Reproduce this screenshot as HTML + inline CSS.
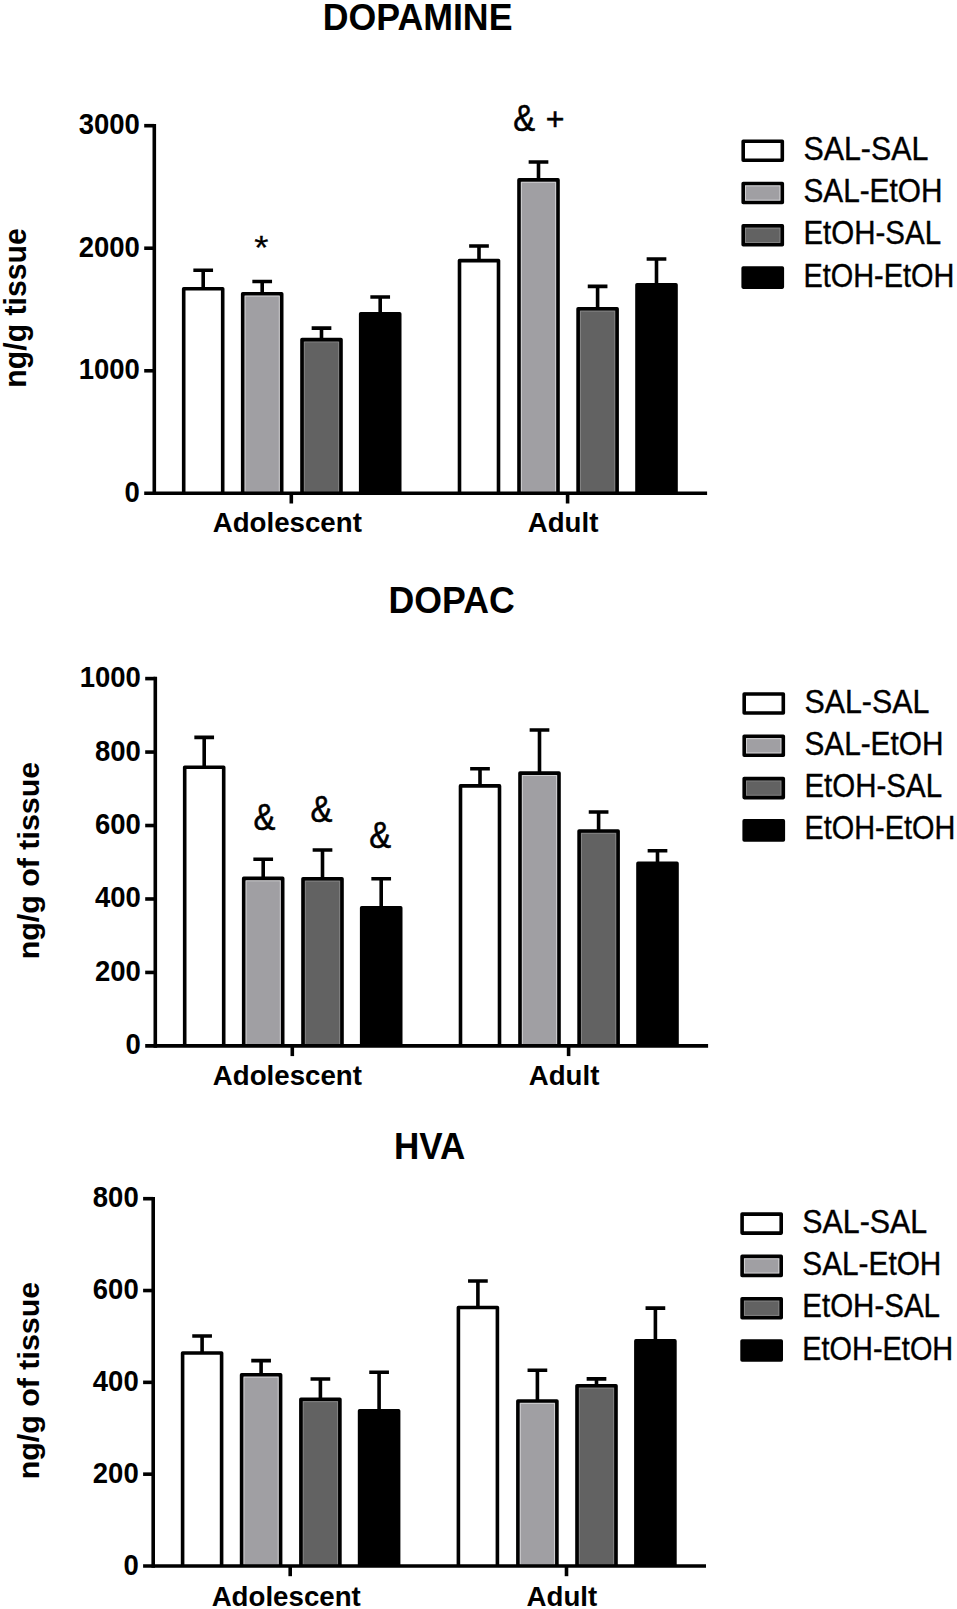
<!DOCTYPE html>
<html lang="en">
<head>
<meta charset="utf-8">
<title>Dopamine, DOPAC and HVA levels</title>
<style>
html,body{margin:0;padding:0;background:#fff;}
body{width:957px;height:1609px;overflow:hidden;}
svg{display:block;font-family:"Liberation Sans",Arial,Helvetica,sans-serif;fill:#000;}
</style>
</head>
<body>
<svg width="957" height="1609" viewBox="0 0 957 1609">
<rect width="957" height="1609" fill="#fff"/>
<g fill="none" stroke="#000" stroke-width="3.6">
<path d="M203.2 288.7V270.3M193.35 270.3H213.05"/>
<path d="M183.7 493.3V288.7H222.7V493.3" fill="#FFFFFF" stroke-linejoin="round"/>
<path d="M262.2 293.7V281.5M252.35 281.5H272.05"/>
<path d="M242.7 493.3V293.7H281.7V493.3" fill="#A09FA3" stroke-linejoin="round"/>
<path d="M245.1 491.5V296.1H279.3V491.5" stroke="#fff" stroke-opacity="0.62" stroke-width="0.8"/>
<path d="M321.5 339.6V328.1M311.65 328.1H331.35"/>
<path d="M302 493.3V339.6H341V493.3" fill="#626262" stroke-linejoin="round"/>
<path d="M304.4 491.5V342H338.6V491.5" stroke="#fff" stroke-opacity="0.25" stroke-width="0.8"/>
<path d="M380.2 313.8V297M370.35 297H390.05"/>
<path d="M360.7 493.3V313.8H399.7V493.3" fill="#000000" stroke-linejoin="round"/>
<path d="M479 260.6V246M469.15 246H488.85"/>
<path d="M459.5 493.3V260.6H498.5V493.3" fill="#FFFFFF" stroke-linejoin="round"/>
<path d="M538.5 179.9V162M528.65 162H548.35"/>
<path d="M519 493.3V179.9H558V493.3" fill="#A09FA3" stroke-linejoin="round"/>
<path d="M521.4 491.5V182.3H555.6V491.5" stroke="#fff" stroke-opacity="0.62" stroke-width="0.8"/>
<path d="M597.6 308.8V286.4M587.75 286.4H607.45"/>
<path d="M578.1 493.3V308.8H617.1V493.3" fill="#626262" stroke-linejoin="round"/>
<path d="M580.5 491.5V311.2H614.7V491.5" stroke="#fff" stroke-opacity="0.25" stroke-width="0.8"/>
<path d="M656.5 284.7V259M646.65 259H666.35"/>
<path d="M637 493.3V284.7H676V493.3" fill="#000000" stroke-linejoin="round"/>
<path d="M154.3 123.9V495.1"/>
<path d="M144.2 493.3H707.1"/>
<path d="M144.2 370.77H154.3"/>
<path d="M144.2 248.23H154.3"/>
<path d="M144.2 125.7H154.3"/>
<path d="M291.3 493.3V503.5"/>
<path d="M567.6 493.3V503.5"/>
</g>
<g font-weight="bold" font-size="27.5" text-anchor="end">
<text transform="translate(139.8 501.8) scale(1 1.06)">0</text>
<text transform="translate(139.8 379.27) scale(1 1.06)">1000</text>
<text transform="translate(139.8 256.73) scale(1 1.06)">2000</text>
<text transform="translate(139.8 134.2) scale(1 1.06)">3000</text>
</g>
<g font-weight="bold" font-size="27.4" text-anchor="middle">
<text transform="translate(287.3 531.7) scale(1.01 1.04)">Adolescent</text>
<text transform="translate(563 531.7) scale(1.01 1.04)">Adult</text>
</g>
<g font-size="29.5" stroke="#000" stroke-width="0.35">
<rect x="743.2" y="141.2" width="39.1" height="19" fill="#FFFFFF" stroke="#000" stroke-width="3.6" stroke-linejoin="round"/>
<text transform="translate(803.4 159.7) scale(1.03 1.11)">SAL-SAL</text>
<rect x="743.2" y="183.5" width="39.1" height="19" fill="#A09FA3" stroke="#000" stroke-width="3.6" stroke-linejoin="round"/>
<rect x="745.6" y="185.9" width="34.3" height="14.2" fill="none" stroke="#fff" stroke-opacity="0.62" stroke-width="0.8"/>
<text transform="translate(803.4 202) scale(1.01 1.11)">SAL-EtOH</text>
<rect x="743.2" y="225.8" width="39.1" height="19" fill="#626262" stroke="#000" stroke-width="3.6" stroke-linejoin="round"/>
<rect x="745.6" y="228.2" width="34.3" height="14.2" fill="none" stroke="#fff" stroke-opacity="0.25" stroke-width="0.8"/>
<text transform="translate(803.4 244.3) scale(1 1.11)">EtOH-SAL</text>
<rect x="743.2" y="268.1" width="39.1" height="19" fill="#000000" stroke="#000" stroke-width="3.6" stroke-linejoin="round"/>
<text transform="translate(803.4 286.6) scale(0.98 1.11)">EtOH-EtOH</text>
</g>
<g fill="none" stroke="#000" stroke-width="3.6">
<path d="M204.2 767.3V737.4M194.35 737.4H214.05"/>
<path d="M184.7 1045.9V767.3H223.7V1045.9" fill="#FFFFFF" stroke-linejoin="round"/>
<path d="M263.2 878.4V859.2M253.35 859.2H273.05"/>
<path d="M243.7 1045.9V878.4H282.7V1045.9" fill="#A09FA3" stroke-linejoin="round"/>
<path d="M246.1 1044.1V880.8H280.3V1044.1" stroke="#fff" stroke-opacity="0.62" stroke-width="0.8"/>
<path d="M322.5 878.8V850M312.65 850H332.35"/>
<path d="M303 1045.9V878.8H342V1045.9" fill="#626262" stroke-linejoin="round"/>
<path d="M305.4 1044.1V881.2H339.6V1044.1" stroke="#fff" stroke-opacity="0.25" stroke-width="0.8"/>
<path d="M381.2 907.8V878.8M371.35 878.8H391.05"/>
<path d="M361.7 1045.9V907.8H400.7V1045.9" fill="#000000" stroke-linejoin="round"/>
<path d="M480 785.9V768.7M470.15 768.7H489.85"/>
<path d="M460.5 1045.9V785.9H499.5V1045.9" fill="#FFFFFF" stroke-linejoin="round"/>
<path d="M539.5 773.1V730M529.65 730H549.35"/>
<path d="M520 1045.9V773.1H559V1045.9" fill="#A09FA3" stroke-linejoin="round"/>
<path d="M522.4 1044.1V775.5H556.6V1044.1" stroke="#fff" stroke-opacity="0.62" stroke-width="0.8"/>
<path d="M598.6 831V812M588.75 812H608.45"/>
<path d="M579.1 1045.9V831H618.1V1045.9" fill="#626262" stroke-linejoin="round"/>
<path d="M581.5 1044.1V833.4H615.7V1044.1" stroke="#fff" stroke-opacity="0.25" stroke-width="0.8"/>
<path d="M657.5 863.4V850.8M647.65 850.8H667.35"/>
<path d="M638 1045.9V863.4H677V1045.9" fill="#000000" stroke-linejoin="round"/>
<path d="M155.3 676.8V1047.7"/>
<path d="M145.2 1045.9H708.1"/>
<path d="M145.2 972.44H155.3"/>
<path d="M145.2 898.98H155.3"/>
<path d="M145.2 825.52H155.3"/>
<path d="M145.2 752.06H155.3"/>
<path d="M145.2 678.6H155.3"/>
<path d="M292.3 1045.9V1056.1"/>
<path d="M568.6 1045.9V1056.1"/>
</g>
<g font-weight="bold" font-size="27.5" text-anchor="end">
<text transform="translate(140.8 1054.4) scale(1 1.06)">0</text>
<text transform="translate(140.8 980.94) scale(1 1.06)">200</text>
<text transform="translate(140.8 907.48) scale(1 1.06)">400</text>
<text transform="translate(140.8 834.02) scale(1 1.06)">600</text>
<text transform="translate(140.8 760.56) scale(1 1.06)">800</text>
<text transform="translate(140.8 687.1) scale(1 1.06)">1000</text>
</g>
<g font-weight="bold" font-size="27.4" text-anchor="middle">
<text transform="translate(287.4 1085) scale(1.01 1.04)">Adolescent</text>
<text transform="translate(564 1085) scale(1.01 1.04)">Adult</text>
</g>
<g font-size="29.5" stroke="#000" stroke-width="0.35">
<rect x="744.2" y="694" width="39.1" height="19" fill="#FFFFFF" stroke="#000" stroke-width="3.6" stroke-linejoin="round"/>
<text transform="translate(804.4 712.5) scale(1.03 1.11)">SAL-SAL</text>
<rect x="744.2" y="736.3" width="39.1" height="19" fill="#A09FA3" stroke="#000" stroke-width="3.6" stroke-linejoin="round"/>
<rect x="746.6" y="738.7" width="34.3" height="14.2" fill="none" stroke="#fff" stroke-opacity="0.62" stroke-width="0.8"/>
<text transform="translate(804.4 754.8) scale(1.01 1.11)">SAL-EtOH</text>
<rect x="744.2" y="778.6" width="39.1" height="19" fill="#626262" stroke="#000" stroke-width="3.6" stroke-linejoin="round"/>
<rect x="746.6" y="781" width="34.3" height="14.2" fill="none" stroke="#fff" stroke-opacity="0.25" stroke-width="0.8"/>
<text transform="translate(804.4 797.1) scale(1 1.11)">EtOH-SAL</text>
<rect x="744.2" y="820.9" width="39.1" height="19" fill="#000000" stroke="#000" stroke-width="3.6" stroke-linejoin="round"/>
<text transform="translate(804.4 839.4) scale(0.98 1.11)">EtOH-EtOH</text>
</g>
<g fill="none" stroke="#000" stroke-width="3.6">
<path d="M202.1 1353V1336M192.25 1336H211.95"/>
<path d="M182.6 1566V1353H221.6V1566" fill="#FFFFFF" stroke-linejoin="round"/>
<path d="M261.1 1374.8V1360.6M251.25 1360.6H270.95"/>
<path d="M241.6 1566V1374.8H280.6V1566" fill="#A09FA3" stroke-linejoin="round"/>
<path d="M244 1564.2V1377.2H278.2V1564.2" stroke="#fff" stroke-opacity="0.62" stroke-width="0.8"/>
<path d="M320.4 1399.3V1379M310.55 1379H330.25"/>
<path d="M300.9 1566V1399.3H339.9V1566" fill="#626262" stroke-linejoin="round"/>
<path d="M303.3 1564.2V1401.7H337.5V1564.2" stroke="#fff" stroke-opacity="0.25" stroke-width="0.8"/>
<path d="M379.1 1410.7V1372.2M369.25 1372.2H388.95"/>
<path d="M359.6 1566V1410.7H398.6V1566" fill="#000000" stroke-linejoin="round"/>
<path d="M477.9 1307.5V1281M468.05 1281H487.75"/>
<path d="M458.4 1566V1307.5H497.4V1566" fill="#FFFFFF" stroke-linejoin="round"/>
<path d="M537.4 1401V1370.2M527.55 1370.2H547.25"/>
<path d="M517.9 1566V1401H556.9V1566" fill="#A09FA3" stroke-linejoin="round"/>
<path d="M520.3 1564.2V1403.4H554.5V1564.2" stroke="#fff" stroke-opacity="0.62" stroke-width="0.8"/>
<path d="M596.5 1385.8V1378.9M586.65 1378.9H606.35"/>
<path d="M577 1566V1385.8H616V1566" fill="#626262" stroke-linejoin="round"/>
<path d="M579.4 1564.2V1388.2H613.6V1564.2" stroke="#fff" stroke-opacity="0.25" stroke-width="0.8"/>
<path d="M655.4 1340.9V1308.1M645.55 1308.1H665.25"/>
<path d="M635.9 1566V1340.9H674.9V1566" fill="#000000" stroke-linejoin="round"/>
<path d="M153.2 1196.9V1567.8"/>
<path d="M143.1 1566H706"/>
<path d="M143.1 1474.17H153.2"/>
<path d="M143.1 1382.35H153.2"/>
<path d="M143.1 1290.53H153.2"/>
<path d="M143.1 1198.7H153.2"/>
<path d="M290.2 1566V1576.2"/>
<path d="M566.5 1566V1576.2"/>
</g>
<g font-weight="bold" font-size="27.5" text-anchor="end">
<text transform="translate(138.7 1574.5) scale(1 1.06)">0</text>
<text transform="translate(138.7 1482.67) scale(1 1.06)">200</text>
<text transform="translate(138.7 1390.85) scale(1 1.06)">400</text>
<text transform="translate(138.7 1299.03) scale(1 1.06)">600</text>
<text transform="translate(138.7 1207.2) scale(1 1.06)">800</text>
</g>
<g font-weight="bold" font-size="27.4" text-anchor="middle">
<text transform="translate(286.2 1605.7) scale(1.01 1.04)">Adolescent</text>
<text transform="translate(561.9 1605.7) scale(1.01 1.04)">Adult</text>
</g>
<g font-size="29.5" stroke="#000" stroke-width="0.35">
<rect x="742.1" y="1214.1" width="39.1" height="19" fill="#FFFFFF" stroke="#000" stroke-width="3.6" stroke-linejoin="round"/>
<text transform="translate(802.3 1232.6) scale(1.03 1.11)">SAL-SAL</text>
<rect x="742.1" y="1256.4" width="39.1" height="19" fill="#A09FA3" stroke="#000" stroke-width="3.6" stroke-linejoin="round"/>
<rect x="744.5" y="1258.8" width="34.3" height="14.2" fill="none" stroke="#fff" stroke-opacity="0.62" stroke-width="0.8"/>
<text transform="translate(802.3 1274.9) scale(1.01 1.11)">SAL-EtOH</text>
<rect x="742.1" y="1298.7" width="39.1" height="19" fill="#626262" stroke="#000" stroke-width="3.6" stroke-linejoin="round"/>
<rect x="744.5" y="1301.1" width="34.3" height="14.2" fill="none" stroke="#fff" stroke-opacity="0.25" stroke-width="0.8"/>
<text transform="translate(802.3 1317.2) scale(1 1.11)">EtOH-SAL</text>
<rect x="742.1" y="1341" width="39.1" height="19" fill="#000000" stroke="#000" stroke-width="3.6" stroke-linejoin="round"/>
<text transform="translate(802.3 1359.5) scale(0.98 1.11)">EtOH-EtOH</text>
</g>
<g font-weight="bold" font-size="35" text-anchor="middle">
<text transform="translate(417.6 29.7) scale(1.02 1.08)">DOPAMINE</text>
<text transform="translate(451.7 612.9) scale(1.02 1.06)">DOPAC</text>
<text transform="translate(429.6 1158.5) scale(1 1.05)">HVA</text>
</g>
<g font-weight="bold" font-size="30" text-anchor="middle">
<text transform="translate(26.1 307.9) rotate(-90) scale(1.008 1.03)">ng/g tissue</text>
<text transform="translate(39 860.6) rotate(-90) scale(1.013 1)">ng/g of tissue</text>
<text transform="translate(39 1380.6) rotate(-90) scale(1.013 1)">ng/g of tissue</text>
</g>
<g font-size="33.5" text-anchor="middle" stroke="#000" stroke-width="0.5">
<text transform="translate(261.4 259.3) scale(1 0.89)" font-size="36.5" stroke-width="0.3">*</text>
<text transform="translate(524.2 131) scale(0.98 1.08)">&amp;</text>
<text transform="translate(555.2 129.7) scale(1 1)" font-size="32">+</text>
<text transform="translate(264.4 829.7) scale(0.98 1.08)">&amp;</text>
<text transform="translate(321.4 821.9) scale(0.98 1.08)">&amp;</text>
<text transform="translate(380.2 847.8) scale(0.98 1.08)">&amp;</text>
</g>
</svg>
</body>
</html>
